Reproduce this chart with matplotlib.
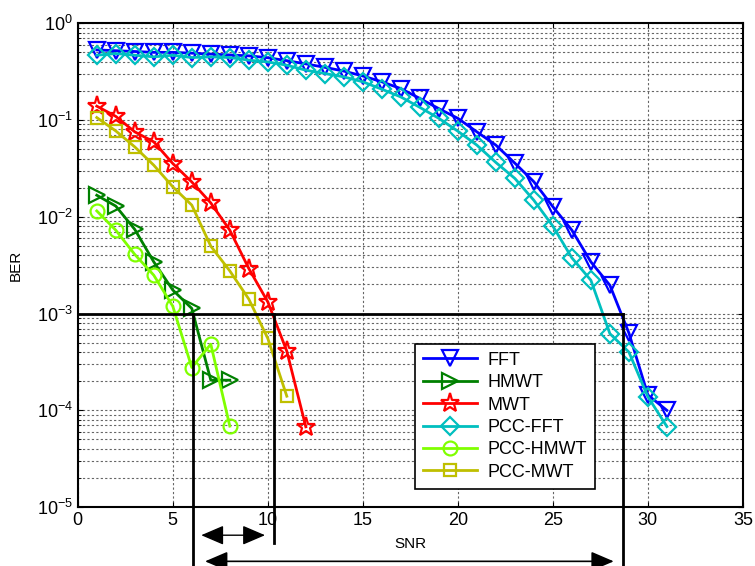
import numpy as np
import matplotlib
matplotlib.use("Agg")
import matplotlib.pyplot as plt

plt.rcParams['font.family'] = ['Liberation Sans', 'DejaVu Sans']
plt.rcParams['mathtext.fontset'] = 'custom'
plt.rcParams['mathtext.rm'] = 'Liberation Sans'
plt.rcParams['mathtext.it'] = 'Liberation Sans'

# SNR axis values
snr_fft = list(range(1, 32))
fft = [0.53, 0.52, 0.51, 0.50, 0.50, 0.49, 0.48, 0.47, 0.46, 0.44, 0.41, 0.38,
       0.35, 0.32, 0.285, 0.248, 0.211, 0.167, 0.131, 0.104, 0.0754, 0.055,
       0.0358, 0.023, 0.0127, 0.00727, 0.00342, 0.00196, 6.3e-4, 1.44e-4, 1.0e-4]
pcc_fft = [0.467, 0.486, 0.467, 0.449, 0.467, 0.442, 0.449, 0.442, 0.415, 0.398,
           0.368, 0.327, 0.302, 0.279, 0.248, 0.208, 0.173, 0.135, 0.104, 0.0766,
           0.055, 0.0364, 0.0249, 0.0148, 0.0080, 0.00376, 0.00221, 6.2e-4, 4.0e-4,
           1.38e-4, 6.8e-5]

snr_hmwt = list(range(1, 9))
hmwt = [0.0167, 0.0129, 0.0074, 0.00342, 0.00175, 0.00113, 2.05e-4, 2.05e-4]
pcc_hmwt = [0.0115, 0.00727, 0.00408, 0.00249, 0.00119, 2.77e-4, 4.83e-4, 6.87e-5]

snr_mwt = list(range(1, 13))
mwt = [0.139, 0.109, 0.0754, 0.0594, 0.0355, 0.0229, 0.0139, 0.00727, 0.00292,
       0.00132, 4.09e-4, 6.76e-5]
snr_pcc_mwt = list(range(1, 12))
pcc_mwt = [0.106, 0.0771, 0.0527, 0.0341, 0.0204, 0.0132, 0.00497, 0.00276,
           0.00141, 5.53e-4, 1.40e-4]

# crossing points at BER = 1e-3
target_ber = 1e-3
cross_x = [6.05, 10.3, 28.7]

fig = plt.figure(figsize=(7.55, 5.66), dpi=100)
ax = fig.add_axes([0.103, 0.104, 0.881, 0.855])

ax.plot(snr_fft, fft, 'v-', color='#0000ff', label='FFT', lw=2, ms=11, mew=1.6, mfc='none')
ax.plot(snr_hmwt, hmwt, '>-', color='#008000', label='HMWT', lw=2, ms=11, mew=1.6, mfc='none')
ax.plot(snr_mwt, mwt, '*-', color='#ff0000', label='MWT', lw=2, ms=14, mew=1.6, mfc='none')
ax.plot(snr_fft, pcc_fft, 'D-', color='#00bfbf', label='PCC-FFT', lw=2, ms=9, mew=1.6, mfc='none')
ax.plot(snr_hmwt, pcc_hmwt, 'o-', color='#80ff00', label='PCC-HMWT', lw=2, ms=10, mew=1.6, mfc='none')
ax.plot(snr_pcc_mwt, pcc_mwt, 's-', color='#bfbf00', label='PCC-MWT', lw=2, ms=9, mew=1.6, mfc='none')

ax.set_yscale('log')
ax.set_xlim(0, 35)
ax.set_ylim(1e-5, 1)
ax.set_xticks(range(0, 36, 5))
ax.set_yticks([1e-5, 1e-4, 1e-3, 1e-2, 1e-1, 1])
ax.grid(True, which='major', ls=(0, (2, 2)), color='#666666', lw=0.8)
ax.grid(True, which='minor', axis='y', ls=(0, (2, 2)), color='#666666', lw=0.8)
ax.tick_params(direction='in', which='both', top=True, right=True, labelsize=13)
for s in ax.spines.values():
    s.set_linewidth(1.5)

ax.set_xlabel('SNR', fontsize=11, labelpad=6)
ax.set_ylabel('BER', fontsize=11, labelpad=10)

# reference line and markers at 1e-3
ax.plot([0, cross_x[-1]], [target_ber, target_ber], 'k-', lw=2)
trans = ax.get_xaxis_transform()
ax.plot([cross_x[0], cross_x[0]], [0.4, -0.125], 'k-', lw=2, transform=trans, clip_on=False)
ax.plot([cross_x[1], cross_x[1]], [0.4, -0.074], 'k-', lw=2, transform=trans, clip_on=False)
ax.plot([cross_x[2], cross_x[2]], [0.4, -0.125], 'k-', lw=2, transform=trans, clip_on=False)

ax.annotate('', xy=(cross_x[0] + 0.3, -0.058), xytext=(cross_x[1] - 0.3, -0.058),
            xycoords=trans, textcoords=trans,
            arrowprops=dict(arrowstyle='<|-|>,head_length=0.7,head_width=0.3',
                            color='k', lw=1, mutation_scale=20))
ax.annotate('', xy=(cross_x[0] + 0.5, -0.112), xytext=(cross_x[2] - 0.35, -0.112),
            xycoords=trans, textcoords=trans,
            arrowprops=dict(arrowstyle='<|-|>,head_length=0.7,head_width=0.3',
                            color='#777777', lw=1.2, mutation_scale=20,
                            fc='k', ec='k'))

leg = ax.legend(loc='lower left', bbox_to_anchor=(0.493, 0.019), fontsize=13,
                fancybox=False, framealpha=1, edgecolor='k', handlelength=3,
                borderpad=0.45, labelspacing=0.3, handletextpad=0.6)
leg.get_frame().set_linewidth(1.2)

fig.savefig('out.png', dpi=100)
